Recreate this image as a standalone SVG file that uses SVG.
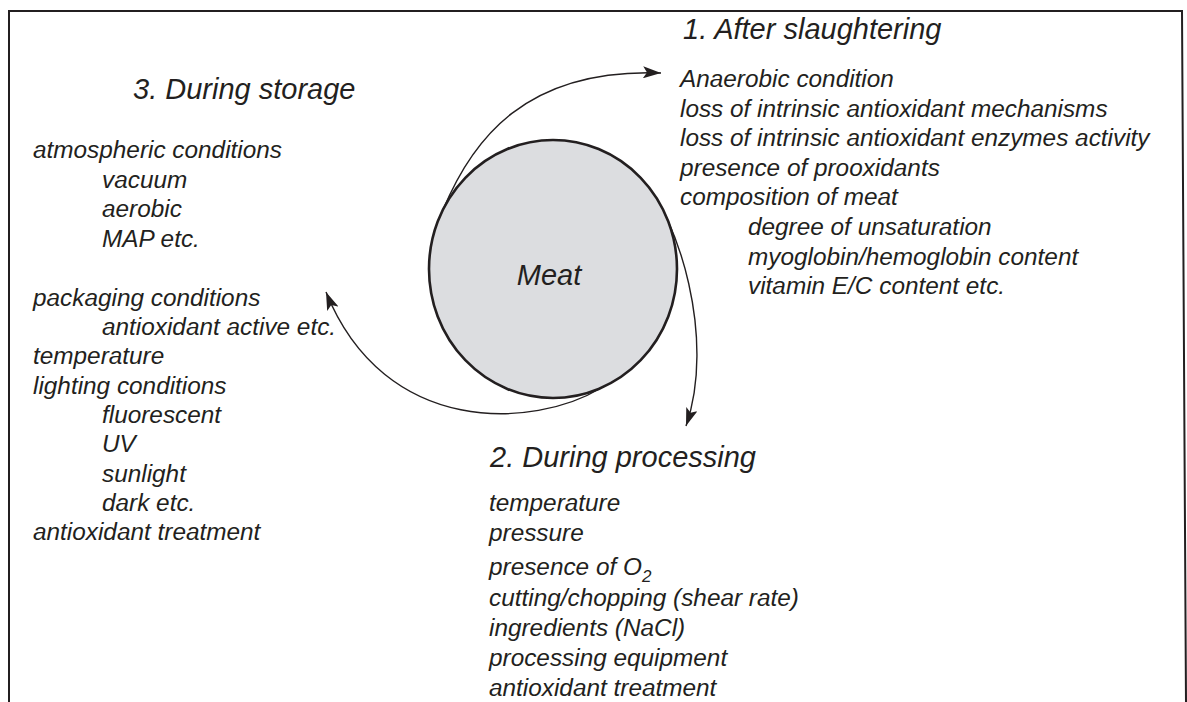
<svg xmlns="http://www.w3.org/2000/svg" width="1187" height="702" viewBox="0 0 1187 702">
<style>
text{font-family:"Liberation Sans",Arial,sans-serif;font-style:italic;fill:#231f20}
.h{font-size:29px}
.t{font-size:24.35px}
.arc{fill:none;stroke:#231f20;stroke-width:1.4}
</style>
<defs>
<marker id="ah" markerWidth="20" markerHeight="12" refX="18" refY="6" orient="auto" markerUnits="userSpaceOnUse">
<path d="M0,0 L18,6 L0,12 L4,6 z" fill="#231f20"/>
</marker>
</defs>
<rect width="1187" height="702" fill="#ffffff"/>
<path d="M9,702 V11 H1182 L1186,702" fill="none" stroke="#231f20" stroke-width="2"/>

<g id="connectors">
<path class="arc" d="M443,210 C472,140 525,68 661,73" marker-end="url(#ah)"/>
<path class="arc" d="M639,176 C679,216 716,340 686,426" marker-end="url(#ah)"/>
<path class="arc" d="M601,388 C535,428 385,438 326,292" marker-end="url(#ah)"/>
</g>

<g id="meat">
<ellipse cx="553" cy="269" rx="124" ry="129" fill="#dcdde0" stroke="#231f20" stroke-width="2.6"/>
<text class="h" x="549" y="285" text-anchor="middle">Meat</text>
</g>

<g id="after-slaughtering">
<text class="h" x="683" y="39">1. After slaughtering</text>
<text class="t" x="680" y="87">Anaerobic condition</text>
<text class="t" x="680" y="116.6">loss of intrinsic antioxidant mechanisms</text>
<text class="t" x="680" y="146.2">loss of intrinsic antioxidant enzymes activity</text>
<text class="t" x="680" y="175.8">presence of prooxidants</text>
<text class="t" x="680" y="205.4">composition of meat</text>
<text class="t" x="748" y="235">degree of unsaturation</text>
<text class="t" x="748" y="264.6">myoglobin/hemoglobin content</text>
<text class="t" x="748" y="294.2">vitamin E/C content etc.</text>
</g>

<g id="during-storage">
<text class="h" x="133" y="99">3. During storage</text>
<text class="t" x="33" y="158">atmospheric conditions</text>
<text class="t" x="102" y="187.5">vacuum</text>
<text class="t" x="102" y="217">aerobic</text>
<text class="t" x="102" y="246.5">MAP etc.</text>
<text class="t" x="33" y="306">packaging conditions</text>
<text class="t" x="102" y="335">antioxidant active etc.</text>
<text class="t" x="33" y="364">temperature</text>
<text class="t" x="33" y="393.5">lighting conditions</text>
<text class="t" x="102" y="423">fluorescent</text>
<text class="t" x="102" y="452">UV</text>
<text class="t" x="102" y="481.5">sunlight</text>
<text class="t" x="102" y="511">dark etc.</text>
<text class="t" x="33" y="540">antioxidant treatment</text>
</g>

<g id="during-processing">
<text class="h" x="490" y="467">2. During processing</text>
<text class="t" x="489" y="511">temperature</text>
<text class="t" x="489" y="541">pressure</text>
<text class="t" x="489" y="575">presence of O<tspan dy="7" font-size="17">2</tspan></text>
<text class="t" x="489" y="606">cutting/chopping (shear rate)</text>
<text class="t" x="489" y="636">ingredients (NaCl)</text>
<text class="t" x="489" y="666">processing equipment</text>
<text class="t" x="489" y="696">antioxidant treatment</text>
</g>
</svg>
